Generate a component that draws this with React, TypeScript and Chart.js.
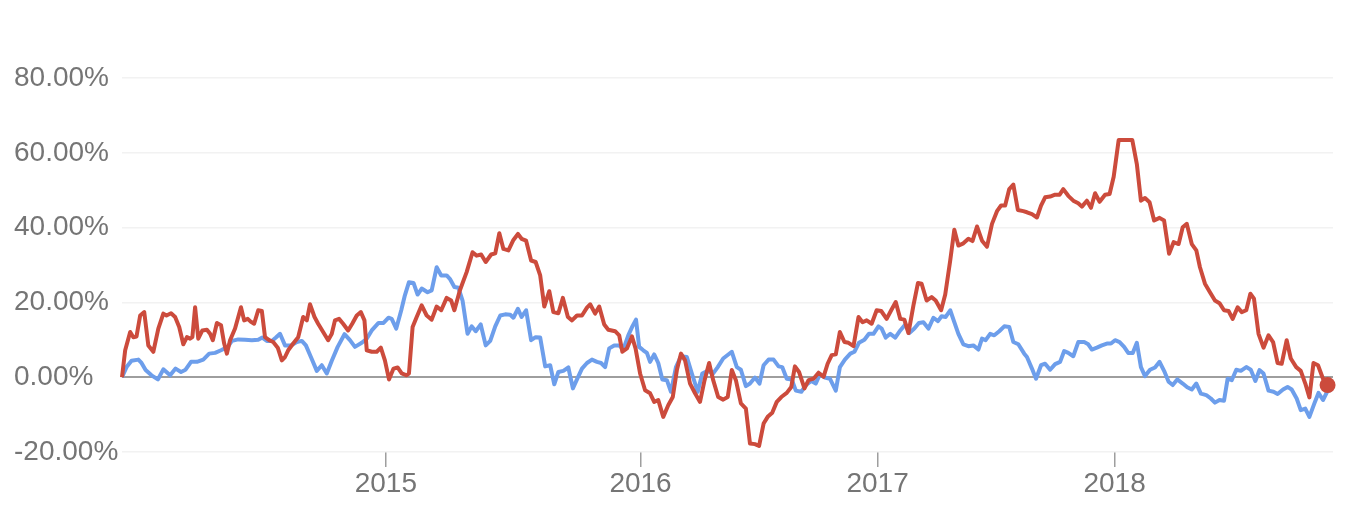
import React, { useEffect, useRef } from "react";
import { Chart, registerables } from "chart.js";

Chart.register(...registerables);

// x = week index since start of the series (late Oct 2013)
const yearTickWeeks = [58.1, 114.2, 166.4, 218.6];
const yearTickLabels = ["2015", "2016", "2017", "2018"];
const yTickValues = [-20, 0, 20, 40, 60, 80];
const xMaxWeek = 266.7;

const redWeeks = [
  0, 0.7, 1.8, 2.5, 3.2, 4.0, 4.9, 5.8, 6.9, 8.0, 9.1, 9.8, 10.8, 11.7, 12.6, 13.5, 14.3, 15.0, 15.5, 16.1,
  16.8, 17.7, 18.7, 19.4, 20.0, 20.9, 21.8, 22.5, 23.1, 23.8, 24.9, 26.2, 26.9, 27.7, 28.4, 29.1, 30.0, 30.8, 31.5, 32.4,
  33.3, 34.3, 35.2, 35.9, 36.6, 37.7, 38.8, 39.9, 40.7, 41.4, 42.4, 43.2, 44.3, 45.4, 46.2, 46.9, 47.8, 48.7, 49.8, 50.7,
  51.7, 52.6, 53.4, 53.9, 55.0, 56.1, 57.0, 57.9, 58.8, 59.8, 60.7, 61.6, 62.7, 63.2, 64.0, 64.9, 66.0, 67.1, 68.2, 69.3,
  70.3, 71.5, 72.5, 73.2, 74.4, 75.9, 77.2, 78.1, 79.1, 80.1, 81.3, 82.2, 83.1, 84.0, 85.1, 86.2, 87.2, 88.0, 89.0, 90.1,
  91.1, 92.1, 93.0, 94.1, 95.0, 96.1, 97.1, 98.2, 99.1, 100.2, 101.3, 102.4, 103.1, 104.2, 105.1, 106.2, 107.1, 108.6, 109.5, 110.2,
  111.2, 112.3, 113.1, 114.1, 115.2, 116.3, 117.2, 118.1, 119.2, 120.3, 121.3, 122.2, 123.1, 124.0, 125.1, 126.2, 127.3, 128.3, 129.3, 130.2,
  131.3, 132.4, 133.4, 134.3, 135.2, 136.3, 137.4, 138.3, 139.4, 140.3, 141.3, 142.2, 143.2, 144.2, 145.2, 146.4, 147.4, 148.2, 149.1, 150.3,
  151.2, 152.3, 153.4, 154.5, 155.4, 156.3, 157.2, 158.1, 159.1, 160.0, 161.1, 162.2, 163.1, 164.0, 165.1, 166.2, 167.2, 168.4, 169.4, 170.4,
  171.4, 172.3, 173.2, 174.3, 175.3, 176.1, 177.2, 178.3, 179.2, 180.4, 181.3, 182.4, 183.3, 184.2, 185.3, 186.4, 187.3, 188.3, 189.4, 190.5,
  191.6, 192.7, 193.6, 194.5, 195.4, 196.3, 197.3, 198.5, 199.3, 200.4, 201.5, 202.4, 203.3, 204.4, 205.5, 206.5, 207.3, 208.4, 209.5, 210.6,
  211.4, 212.5, 213.4, 214.3, 215.3, 216.5, 217.5, 218.4, 219.5, 220.6, 222.5, 223.5, 224.4, 225.3, 226.3, 227.3, 228.5, 229.5, 230.6, 231.6,
  232.7, 233.6, 234.5, 235.6, 236.6, 237.4, 238.5, 239.6, 240.7, 241.7, 242.7, 243.7, 244.6, 245.7, 246.6, 247.6, 248.5, 249.3, 250.3, 251.4,
  252.5, 253.5, 254.5, 255.4, 256.5, 257.4, 258.6, 259.6, 260.6, 261.5, 262.4, 263.4, 264.5, 265.5,
];
const redValues = [
  0, 7.2, 12.1, 10.7, 10.9, 16.5, 17.4, 8.5, 6.8, 13, 17, 16.5, 17.1, 16.1, 13.4, 8.8, 10.7, 10.3, 10.7, 18.7,
  10.3, 12.5, 12.7, 11.6, 9.9, 14.5, 13.9, 9.0, 6.3, 9.9, 13, 18.7, 15.2, 15.6, 14.8, 14.3, 17.9, 17.7, 10.7, 9.9,
  9.4, 7.9, 4.5, 5.4, 7.2, 9.0, 10.7, 16.1, 15.2, 19.5, 16.1, 14.3, 12.1, 9.9, 11.6, 15.2, 15.6, 14.3, 12.5, 14.3,
  16.5, 17.4, 15.2, 7.2, 6.8, 6.8, 7.9, 4.5, -0.6, 2.3, 2.6, 1.0, 0.5, 1.0, 13.4, 16.1, 19.2, 16.5, 15.4, 18.9,
  17.9, 21.2, 20.5, 17.9, 23.2, 28.1, 33.4, 32.5, 32.8, 30.8, 32.8, 33.1, 38.5, 34.3, 33.9, 36.7, 38.3, 37, 36.5, 31.2,
  30.8, 27.2, 18.9, 23, 17.4, 17.1, 21.2, 16.1, 15.2, 16.5, 16.5, 18.6, 19.5, 17, 18.9, 14.1, 12.7, 12.3, 11.2, 6.8,
  7.7, 10.9, 7.7, 1.0, -3.5, -4.3, -6.6, -6.1, -10.6, -7.5, -5.3, 1.9, 6.3, 4.5, -1.7, -4.3, -6.6, -0.8, 3.8, -0.8,
  -5.3, -6, -5.3, 1.9, -0.8, -7, -8.4, -17.7, -17.9, -18.4, -12.4, -10.6, -9.5, -6.6, -5.3, -4.2, -2.6, 2.9, 1.4, -3,
  -0.8, -0.4, 1.2, 0.1, 3.6, 5.9, 6.1, 12.1, 9.4, 9.2, 8.3, 16.1, 14.7, 15.2, 14.3, 17.9, 17.7, 15.6, 17.9, 20.1,
  15.6, 15.4, 11.8, 19.2, 25.2, 25, 20.5, 21.4, 20.5, 17.9, 22.1, 31.2, 39.4, 35.2, 35.8, 37, 36.4, 40.3, 36.5, 34.9,
  41, 44.4, 45.9, 45.9, 50.3, 51.5, 44.7, 44.4, 44.1, 43.6, 42.7, 45.9, 48.1, 48.3, 48.8, 48.8, 50.3, 48.5, 47.2, 46.5,
  45.6, 47.2, 45.3, 49.2, 46.9, 48.8, 49, 53.6, 63.4, 63.4, 63.4, 57, 47.2, 47.9, 46.8, 41.9, 42.6, 41.9, 33, 36.1,
  35.6, 40.1, 41, 35.6, 33.9, 29.4, 25, 22.7, 20.5, 19.8, 17.9, 17.7, 15.6, 18.7, 17.4, 17.9, 22.3, 21, 11.6, 7.9,
  11.2, 9.4, 3.8, 3.6, 9.9, 5.0, 2.7, 1.7, -1.7, -5.4, 3.8, 3.2, -0.4, -2.1,
];

const blueWeeks = [
  0, 1.0, 2.1, 3.6, 4.3, 5.2, 6.5, 7.9, 9.1, 10.6, 11.8, 13.0, 14.0, 15.2, 16.5, 17.9, 19.2, 20.5, 21.8, 23.3,
  24.2, 25.6, 27.1, 28.6, 30.0, 30.9, 31.9, 33.0, 33.9, 34.8, 35.9, 37.2, 38.5, 39.6, 40.5, 41.6, 42.9, 44.0, 45.1, 46.2,
  47.5, 49.0, 50.2, 51.3, 52.8, 53.9, 55.0, 56.5, 57.6, 58.7, 59.4, 60.4, 61.5, 62.3, 63.2, 64.2, 65.1, 66.0, 67.3, 68.2,
  69.3, 70.3, 71.5, 72.2, 73.2, 74.1, 75.0, 76.1, 77.0, 77.9, 79.0, 80.1, 81.1, 82.2, 83.3, 84.4, 85.5, 86.2, 87.2, 88.0,
  89.0, 90.1, 91.1, 92.1, 93.2, 94.3, 95.2, 96.1, 97.2, 98.3, 99.3, 100.2, 101.3, 102.4, 103.5, 104.6, 105.5, 106.4, 107.3, 108.4,
  109.5, 110.4, 111.5, 112.4, 113.2, 113.9, 114.8, 115.6, 116.3, 117.2, 118.1, 119.0, 120.0, 120.9, 122.0, 123.1, 124.4, 125.5, 126.8, 127.8,
  129.0, 130.2, 131.2, 132.4, 134.3, 135.4, 136.3, 137.4, 138.3, 139.4, 140.4, 141.3, 142.4, 143.5, 144.6, 145.4, 146.4, 147.5, 148.4, 149.6,
  150.6, 151.8, 152.8, 153.7, 154.8, 155.9, 157.2, 158.1, 159.2, 160.4, 161.3, 162.3, 163.5, 164.5, 165.5, 166.6, 167.3, 168.2, 169.2, 170.3,
  171.4, 172.5, 173.4, 174.5, 175.5, 176.5, 177.6, 178.7, 179.7, 180.5, 181.4, 182.4, 183.3, 184.2, 185.3, 186.4, 187.5, 188.6, 189.4, 190.2,
  191.2, 192.1, 193.2, 194.3, 195.4, 196.3, 197.4, 198.7, 199.3, 200.4, 201.3, 202.4, 203.3, 204.4, 205.5, 206.6, 207.5, 208.4, 209.5, 210.6,
  211.9, 212.8, 213.6, 214.7, 215.8, 216.9, 217.8, 218.7, 219.7, 220.7, 221.6, 222.6, 223.5, 224.4, 225.3, 226.4, 227.5, 228.5, 229.5, 230.5,
  231.4, 232.4, 233.6, 234.6, 235.6, 236.6, 237.6, 238.8, 239.8, 240.7, 241.7, 242.7, 243.5, 244.4, 245.4, 246.4, 247.6, 248.6, 249.6, 250.5,
  251.4, 252.5, 253.6, 254.5, 255.7, 256.7, 257.6, 258.7, 259.6, 260.6, 261.5, 262.6, 263.5, 264.5, 265.4, 266.7,
];
const blueValues = [
  0, 2.7, 4.4, 4.7, 3.8, 1.9, 0.5, -0.6, 2.1, 0.5, 2.3, 1.4, 2.0, 4.1, 4.1, 4.7, 6.3, 6.5, 7.2, 8.1,
  9.7, 10.1, 10.0, 9.9, 10.0, 10.6, 9.7, 9.7, 10.6, 11.6, 8.5, 8.5, 9.4, 9.7, 8.5, 5.4, 1.7, 3.2, 1.0, 4.4,
  8.1, 11.5, 9.9, 8.1, 9.2, 10.3, 12.5, 14.5, 14.5, 15.9, 15.6, 13, 17.9, 21.9, 25.4, 25.2, 22.1, 23.7, 22.7, 23.2,
  29.4, 27.2, 27.2, 26.3, 24.1, 23.9, 20.5, 11.6, 13.6, 12.3, 14.1, 8.5, 9.7, 13.6, 16.5, 16.8, 16.7, 15.9, 18.3, 16.1,
  17.9, 9.9, 10.7, 10.6, 2.9, 3.2, -1.9, 1.4, 1.7, 2.6, -3, -0.6, 2.3, 3.8, 4.7, 4.1, 3.8, 2.7, 7.7, 8.5,
  8.5, 7.4, 11.2, 13.6, 15.4, 8.1, 7.2, 6.5, 4.1, 6.1, 3.8, -0.6, -0.8, -3.9, 2.7, 5.6, 5.4, 1.0, -3.9, 1.0,
  1.7, 1.0, 2.7, 5.0, 6.8, 2.7, 2.0, -2.4, -1.7, -0.1, -1.7, 3.2, 4.7, 4.7, 2.9, 2.7, -0.4, -0.6, -3.6, -3.9,
  -2.1, -1.0, -1.7, 0.8, -0.1, -0.4, -3.6, 2.7, 4.7, 6.3, 6.8, 9.2, 10.0, 11.6, 11.6, 13.6, 13, 10.6, 11.6, 10.6,
  12.5, 14.1, 11.8, 13, 14.5, 14.7, 13, 15.9, 15.0, 16.3, 16.1, 17.9, 14.7, 11.6, 8.8, 8.3, 8.5, 7.4, 10.3, 9.9,
  11.6, 11.2, 12.3, 13.6, 13.4, 9.4, 8.8, 6.3, 5.4, 2.3, -0.4, 3.2, 3.6, 2.0, 3.5, 4.1, 7.0, 6.5, 5.6, 9.4,
  9.4, 8.8, 7.4, 7.9, 8.5, 9.0, 9.0, 9.9, 9.4, 8.1, 6.5, 6.5, 9.2, 2.7, 0.3, 2.0, 2.6, 4.1, 1.7, -1.2,
  -2.1, -0.6, -1.7, -2.7, -3.3, -1.7, -4.4, -4.8, -5.7, -6.8, -6.1, -6.3, -0.4, -0.8, 2.0, 1.7, 2.7, 2.0, -1.0, 1.9,
  1.0, -3.6, -3.9, -4.5, -3.3, -2.6, -3.3, -5.7, -8.8, -8.4, -10.6, -7, -4.2, -6.1, -3.9, -3.0,
];

const RED = "#cc4b3c";
const BLUE = "#6d9eeb";
const FONT = "'Liberation Sans', Arial, Helvetica, sans-serif";

function toPoints(xs: number[], ys: number[]) {
  return xs.map((x, i) => ({ x, y: ys[i] }));
}

export default function App() {
  const ref = useRef<HTMLCanvasElement | null>(null);

  useEffect(() => {
    if (!ref.current) return;
    const redLast = redWeeks.length - 1;
    const chart = new Chart(ref.current, {
      type: "line",
      data: {
        datasets: [
          {
            data: toPoints(redWeeks, redValues),
            borderColor: RED,
            backgroundColor: RED,
            borderWidth: 4,
            tension: 0,
            borderJoinStyle: "round",
            clip: false,
            pointRadius: (c: any) => (c.dataIndex === redLast ? 8 : 0),
            pointBorderWidth: 0,
            pointHoverRadius: 0,
          },
          {
            data: toPoints(blueWeeks, blueValues),
            borderColor: BLUE,
            backgroundColor: BLUE,
            borderWidth: 4,
            tension: 0,
            borderJoinStyle: "round",
            pointRadius: 0,
            pointHoverRadius: 0,
          },
        ],
      },
      options: {
        animation: false,
        responsive: false,
        maintainAspectRatio: false,
        layout: { padding: { left: 14, top: 78, right: 23, bottom: 0 } },
        plugins: { legend: { display: false }, tooltip: { enabled: false } },
        scales: {
          x: {
            type: "linear",
            min: 0,
            max: xMaxWeek,
            afterBuildTicks: (s: any) => {
              s.ticks = yearTickWeeks.map((v) => ({ value: v }));
            },
            afterFit: (s: any) => {
              s.height = 62;
            },
            ticks: {
              autoSkip: false,
              maxRotation: 0,
              padding: 0,
              color: "#757575",
              font: { family: FONT, size: 28 },
              callback: (_v: any, i: number) => yearTickLabels[i],
            },
            grid: {
              drawOnChartArea: false,
              drawTicks: true,
              tickLength: 15,
              color: "#9e9e9e",
              lineWidth: 1.5,
            },
            border: { display: false },
          },
          y: {
            type: "linear",
            min: -20,
            max: 80,
            afterBuildTicks: (s: any) => {
              s.ticks = yTickValues.map((v) => ({ value: v }));
            },
            afterFit: (s: any) => {
              s.width = 108;
            },
            ticks: {
              crossAlign: "far",
              padding: 0,
              color: "#757575",
              font: { family: FONT, size: 28 },
              callback: (v: any) => Number(v).toFixed(2) + "%",
            },
            grid: {
              drawTicks: false,
              color: (c: any) => (c.tick && c.tick.value === 0 ? "#9e9e9e" : "#f2f2f2"),
              lineWidth: (c: any) => (c.tick && c.tick.value === 0 ? 2 : 1.5),
            },
            border: { display: false },
          },
        },
      },
    });
    return () => chart.destroy();
  }, []);

  return (
    <div style={{ position: "fixed", left: 0, top: 0, width: 1356, height: 514, background: "#fff" }}>
      <canvas ref={ref} width={1356} height={514} style={{ width: 1356, height: 514, display: "block" }} />
    </div>
  );
}
